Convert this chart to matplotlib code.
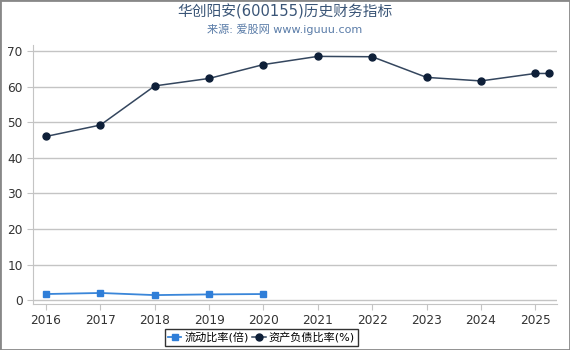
import matplotlib
matplotlib.use("Agg")
import matplotlib.pyplot as plt
from matplotlib.patches import Rectangle

plt.rcParams['font.family'] = ['DejaVu Sans', 'Noto Sans CJK SC']

title = "华创阳安(600155)历史财务指标"
subtitle = "来源: 爱股网 www.iguuu.com"
years = [2016, 2017, 2018, 2019, 2020, 2021, 2022, 2023, 2024, 2025]
cr_x = [2016, 2017, 2018, 2019, 2020]
current_ratio = [1.7, 2.0, 1.4, 1.6, 1.7]
debt_x = [2016, 2017, 2018, 2019, 2020, 2021, 2022, 2023, 2024, 2025, 2025.25]
debt_ratio = [46.0, 49.2, 60.2, 62.3, 66.2, 68.5, 68.4, 62.6, 61.6, 63.7, 63.7]
labels = ["流动比率(倍)", "资产负债比率(%)"]
yticks = [0, 10, 20, 30, 40, 50, 60, 70]

fig = plt.figure(figsize=(5.7, 3.5), dpi=100)
ax = fig.add_axes([33/570, 1-304/350, (557-33)/570, (304-45)/350])

l1, = ax.plot(cr_x, current_ratio, color='#3a86d9', lw=1.3, marker='s', ms=5,
              mfc='#2f7ed8', mec='#2f7ed8', label=labels[0], zorder=3)
l2, = ax.plot(debt_x, debt_ratio, color='#34465e', lw=1.1, marker='o', ms=5,
              mfc='#0e1f38', mec='#0e1f38', label=labels[1], zorder=3)

ax.set_xlim(2015.76, 2025.40)
ax.set_ylim(-1.1, 71.7)
ax.set_xticks(years)
ax.set_xticklabels([str(y) for y in years])
ax.set_yticks(yticks)
ax.grid(axis='y', color='#c4c4c4', lw=1)
ax.set_axisbelow(True)
for s in ['top', 'right']:
    ax.spines[s].set_visible(False)
ax.spines['left'].set_color('#c4c4c4')
ax.spines['bottom'].set_color('#c4c4c4')
ax.tick_params(axis='both', colors='#c4c4c4', labelcolor='#333333', labelsize=8.7, length=4)

fig.text(0.5, 1-12/350, title, ha='center', va='center', fontsize=10.6, color='#3a5577')
fig.text(0.5, 1-29/350, subtitle, ha='center', va='center', fontsize=8, color='#5a7ca8')

leg = fig.legend(handles=[l1, l2], loc='center', bbox_to_anchor=(261.5/570, 1-337.5/350),
                 ncol=2, fontsize=8, frameon=True, fancybox=False, handlelength=1.2,
                 handletextpad=0.3, columnspacing=0.3, borderpad=0.3, borderaxespad=0)
leg.get_frame().set_edgecolor('black')
leg.get_frame().set_linewidth(1)

fig.patches.append(Rectangle((0, 0), 1, 1, transform=fig.transFigure, fill=False,
                             edgecolor='#888888', lw=2, zorder=10))

fig.savefig('out.png', dpi=100)
